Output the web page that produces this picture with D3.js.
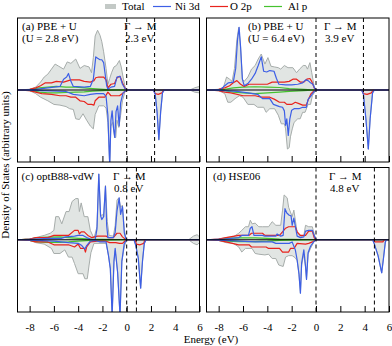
<!DOCTYPE html>
<html>
<head>
<meta charset="utf-8">
<script src="https://cdn.jsdelivr.net/npm/d3@7"></script>
<style>
  body { margin: 0; background: #fff; }
  svg { display: block; }
  svg text { font-family: "Liberation Serif", "Times New Roman", "DejaVu Serif", serif; }
</style>
</head>
<body>
<div id="chart"></div>
<script>
// Projected density of states, four functionals. Points are [energy (eV), DOS]
// spin up > 0, spin down < 0

const energyTicks = [-8, -6, -4, -2, 0, 2, 4, 6];

// (a) PBE + U, U = 2.8 eV
const aTotalUp = [[-9,0],[-8,0.1],[-7.5,0.4],[-7.1,1.1],[-6.8,1.8],[-6.5,2.2],[-6.2,2.9],[-5.9,3.6],[-5.6,3.3],[-5.2,2.9],[-4.9,3.9],[-4.6,3.7],[-4.2,4.3],[-3.85,3.0],[-3.5,3.4],[-3.1,3.2],[-2.9,2.4],[-2.75,4.5],[-2.6,7.5],[-2.4,8.3],[-2.2,7.6],[-2.05,6.7],[-1.9,5.3],[-1.7,3.0],[-1.55,0.8],[-1.4,1.6],[-1.25,2.4],[-1.05,3.2],[-0.85,3.4],[-0.6,4.1],[-0.45,3.2],[-0.3,1.8],[-0.1,0.2],[0,0],[5.2,0],[5.6,0.3],[6,0.5]];
const aTotalDown = [[-9,0],[-8,-0.1],[-7.5,-0.5],[-7.1,-1],[-6.5,-1.5],[-6.0,-2],[-5.5,-2.1],[-5.0,-2.3],[-4.7,-2.6],[-4.4,-2.7],[-4.2,-4],[-3.9,-4.1],[-3.6,-3.3],[-3.3,-4.2],[-3.0,-5],[-2.75,-5.4],[-2.6,-3.4],[-2.3,-2.2],[-1.9,-2.2],[-1.7,-2.5],[-1.55,-4.5],[-1.4,-10.5],[-1.3,-5],[-1.15,-4.5],[-1.0,-6.6],[-0.9,-6.6],[-0.8,-4.2],[-0.65,-5.2],[-0.5,-3.5],[-0.35,-1.5],[-0.15,-0.3],[0,0],[2.2,0],[2.35,-0.6],[2.5,-3],[2.65,-6.9],[2.8,-3],[2.95,-0.4],[3.1,0],[5.2,0],[5.6,-0.3],[6,-0.4]];
const aNiUp = [[-9,0],[-7.5,0.1],[-6.5,0.3],[-5.5,0.5],[-5.2,1.5],[-4.95,1.8],[-4.8,2.3],[-4.6,1.2],[-4.4,0.5],[-3.5,0.4],[-3.0,0.5],[-2.75,1.5],[-2.55,4.6],[-2.4,4.4],[-2.2,4.2],[-2.05,4.2],[-1.9,3.8],[-1.8,2.5],[-1.65,0.6],[-1.55,0.1],[-1.3,0.4],[-1.0,0.5],[-0.8,1.8],[-0.55,1.9],[-0.35,0.8],[-0.1,0.1],[0,0],[6,0]];
const aNiDown = [[-9,0],[-7,-0.1],[-5,-0.2],[-4.4,-0.6],[-3.5,-0.8],[-3.0,-0.6],[-2.5,-0.5],[-1.9,-0.5],[-1.7,-0.9],[-1.55,-3.5],[-1.4,-10.5],[-1.3,-4.2],[-1.2,-2.9],[-1.08,-5.4],[-0.98,-6.6],[-0.88,-3],[-0.75,-2.2],[-0.62,-5],[-0.5,-1.8],[-0.3,-0.4],[0,0],[2.2,0],[2.35,-0.6],[2.5,-3],[2.65,-6.9],[2.8,-3],[2.95,-0.4],[3.1,0],[6,0]];
const aOUp = [[-9,0],[-8,0.1],[-7.5,0.3],[-7.1,0.6],[-6.7,1],[-6.2,1],[-5.8,1.2],[-5.2,1.1],[-4.6,1.4],[-4.2,1.4],[-3.9,1.4],[-3.5,1.2],[-3.0,1.1],[-2.7,1.3],[-2.55,1.7],[-2.3,1.8],[-1.9,1.8],[-1.7,1.4],[-1.55,0.3],[-1.3,0.8],[-1.0,0.9],[-0.8,1.7],[-0.55,1.9],[-0.35,1.0],[-0.1,0.1],[0,0],[6,0]];
const aODown = [[-9,0],[-8,-0.1],[-7.5,-0.3],[-7,-0.5],[-6.2,-0.6],[-5.5,-0.8],[-5.0,-0.8],[-4.6,-1],[-4.2,-1],[-3.85,-1.5],[-3.5,-1.6],[-3.2,-2],[-2.9,-2],[-2.7,-2.1],[-2.6,-1.5],[-2.3,-1],[-1.8,-1],[-1.55,-0.3],[-1.3,-0.8],[-0.9,-0.8],[-0.6,-0.8],[-0.35,-0.5],[-0.1,-0.1],[0,0],[2.2,0],[2.35,-0.5],[2.6,-0.6],[2.9,-0.4],[3.05,0],[6,0]];
const aAlUp = [[-9,0],[-8,0.05],[-7.2,0.3],[-6.5,0.4],[-5.8,0.5],[-5,0.4],[-4.2,0.4],[-3.5,0.3],[-2.8,0.2],[-1.6,0.05],[0,0],[6,0]];
const aAlDown = [[-9,0],[-8,-0.05],[-7.2,-0.3],[-6.5,-0.4],[-5.8,-0.4],[-5,-0.35],[-4.2,-0.3],[-3.5,-0.25],[-2.8,-0.15],[-1.6,-0.05],[0,0],[6,0]];

// (b) PBE + U, U = 6.4 eV
const bTotalUp = [[-9,0],[-8,0.1],[-7.6,0.4],[-7.35,1.8],[-7.1,1.5],[-6.9,1.2],[-6.7,3],[-6.5,7],[-6.35,8.7],[-6.2,6],[-6.05,1.5],[-5.9,1.2],[-5.6,1.8],[-5.3,2.9],[-5.0,3.4],[-4.75,4.3],[-4.5,5],[-4.2,3.6],[-3.95,4.5],[-3.7,3.3],[-3.4,3.2],[-3.1,3.1],[-2.9,2.9],[-2.6,3.4],[-2.3,3.1],[-1.9,3.1],[-1.6,2.4],[-1.35,2.9],[-1.05,3.4],[-0.85,3.4],[-0.7,2.9],[-0.5,3.8],[-0.35,2.4],[-0.15,0.5],[0,0],[6,0]];
const bTotalDown = [[-9,0],[-8,-0.1],[-7.5,-0.5],[-7.25,-1.7],[-7.0,-1.7],[-6.65,-1.2],[-6.3,-0.8],[-6.0,-1.0],[-5.6,-2],[-5.1,-2],[-4.8,-2.4],[-4.3,-2.4],[-4.1,-3.1],[-3.8,-2.6],[-3.4,-2.6],[-3.1,-3.5],[-2.85,-4.7],[-2.6,-4.7],[-2.5,-5.4],[-2.35,-8.2],[-2.2,-8],[-2.1,-6.5],[-1.95,-5.4],[-1.8,-4.5],[-1.5,-4],[-1.3,-4],[-1.1,-3.1],[-0.9,-3.1],[-0.65,-2],[-0.45,-2],[-0.3,-0.8],[0,0],[3.75,0],[3.9,-0.6],[4.1,-4],[4.3,-8.2],[4.45,-4],[4.65,-0.4],[4.8,0],[6,0]];
const bNiUp = [[-9,0],[-7.8,0.1],[-7.5,0.6],[-7.2,1],[-6.8,1.1],[-6.6,3],[-6.45,7],[-6.32,8.7],[-6.2,6],[-6.05,1.5],[-5.9,0.6],[-5.6,0.9],[-5.3,1.5],[-5.0,2.3],[-4.75,3.4],[-4.5,4.6],[-4.3,2.6],[-4.05,2.5],[-3.8,2.7],[-3.45,2.6],[-3.25,1.6],[-3.05,0.8],[-2.5,0.7],[-2.0,0.7],[-1.5,0.8],[-1.1,1.0],[-0.85,1.4],[-0.65,1.3],[-0.45,1.0],[-0.25,0.8],[-0.1,0.2],[0,0],[6,0]];
const bNiDown = [[-9,0],[-7.5,-0.1],[-6.5,-0.2],[-5.6,-0.4],[-4.8,-0.6],[-4.4,-1.2],[-3.8,-1.2],[-3.5,-2],[-3.0,-2.3],[-2.75,-2.4],[-2.6,-2.9],[-2.5,-4.9],[-2.4,-4],[-2.28,-6.3],[-2.15,-4],[-2.0,-2.8],[-1.8,-2.6],[-1.4,-2.6],[-1.1,-2.4],[-0.8,-2.4],[-0.65,-1.3],[-0.4,-0.8],[-0.15,-0.2],[0,0],[3.75,0],[3.9,-0.6],[4.1,-4],[4.3,-8.2],[4.45,-4],[4.65,-0.4],[4.8,0],[6,0]];
const bOUp = [[-9,0],[-8,0.1],[-7.5,0.3],[-7.1,0.6],[-6.8,1.0],[-6.5,1.3],[-6.2,0.8],[-5.9,0.5],[-5.5,0.8],[-4.5,0.8],[-4.0,0.8],[-3.6,1.1],[-3.0,1.1],[-2.6,1.1],[-2.2,1.2],[-1.9,1.5],[-1.6,1.5],[-1.3,1.1],[-1.0,1.1],[-0.75,1.5],[-0.5,1.6],[-0.35,1.2],[-0.15,0.3],[0,0],[6,0]];
const bODown = [[-9,0],[-8,-0.1],[-7.5,-0.3],[-7,-0.4],[-6,-0.8],[-5,-0.8],[-4.5,-1],[-3.8,-1],[-3.4,-1.3],[-3.0,-1.7],[-2.6,-1.7],[-2.4,-2],[-2.0,-2],[-1.7,-1.7],[-1.4,-1.9],[-1.1,-2.1],[-0.8,-2.1],[-0.6,-1.2],[-0.4,-0.5],[-0.15,-0.1],[0,0],[3.75,0],[3.9,-0.5],[4.2,-0.6],[4.55,-0.4],[4.7,0],[6,0]];
const bAlUp = [[-9,0],[-7.5,0.1],[-6.8,0.3],[-6,0.4],[-5,0.45],[-4,0.4],[-3,0.35],[-2.2,0.2],[-1,0.1],[0,0],[6,0]];
const bAlDown = [[-9,0],[-7.5,-0.1],[-6.8,-0.3],[-6,-0.4],[-5,-0.5],[-4,-0.4],[-3,-0.3],[-2.2,-0.2],[-1,-0.1],[0,0],[6,0]];

// (c) optB88-vdW
const cTotalUp = [[-9,0],[-8,0.1],[-7.5,0.3],[-6.8,0.6],[-6.3,0.9],[-6.0,1.3],[-5.85,3.2],[-5.6,3.2],[-5.35,2.2],[-5.0,3.9],[-4.75,3.9],[-4.5,5.3],[-4.2,5.7],[-4.0,5.7],[-3.9,3.9],[-3.75,5.1],[-3.5,3.2],[-3.2,3.2],[-3.0,1.3],[-2.7,0.2],[-2.45,1.8],[-2.3,9.1],[-2.15,3.3],[-2.0,3.5],[-1.9,3.2],[-1.75,7.5],[-1.6,2.5],[-1.45,0.6],[-1.1,0.5],[-0.95,2],[-0.8,5.5],[-0.65,5.8],[-0.5,4.5],[-0.35,4.8],[-0.2,1.5],[-0.05,0.1],[0,0],[5.1,0],[5.5,0.5],[5.8,0.7],[6,0.4]];
const cTotalDown = [[-9,0],[-8,-0.1],[-7.5,-0.4],[-6.8,-0.6],[-6.2,-1.2],[-6.0,-1.9],[-5.5,-1.9],[-5.1,-1.4],[-4.8,-2.4],[-4.5,-2.4],[-4.3,-3.3],[-4.0,-4.7],[-3.6,-4.7],[-3.45,-5.4],[-3.25,-5.4],[-3.1,-3.5],[-2.95,-1.8],[-2.7,-0.5],[-1.7,-0.5],[-1.5,-2.2],[-1.35,-4],[-1.2,-10.5],[-1.05,-3],[-0.95,-1.5],[-0.75,-4.5],[-0.55,-10.5],[-0.4,-3],[-0.2,-1],[0,0],[0.6,0],[0.75,-0.8],[0.95,-2.5],[1.15,-6.7],[1.3,-3],[1.45,-0.5],[1.6,0],[5.1,0],[5.5,-0.5],[5.8,-0.7],[6,-0.4]];
const cNiUp = [[-9,0],[-7.5,0.1],[-6.5,0.2],[-5.4,0.2],[-5,0.4],[-4.3,0.5],[-4,0.6],[-3.6,0.6],[-3.3,0.3],[-3.0,0.1],[-2.6,0],[-2.45,1.5],[-2.3,9.1],[-2.15,3.3],[-2.05,2.8],[-1.9,3.2],[-1.75,7.4],[-1.65,2],[-1.55,0.3],[-1.1,0.3],[-0.95,1],[-0.8,4],[-0.62,5.8],[-0.5,3.5],[-0.35,4.6],[-0.2,1],[-0.05,0],[0,0],[6,0]];
const cNiDown = [[-9,0],[-7.5,-0.1],[-6,-0.2],[-4.8,-0.4],[-4.0,-0.5],[-3.7,-0.8],[-3.45,-1.3],[-3.3,-0.8],[-3.0,-0.2],[-2.6,-0.1],[-2.2,-0.3],[-1.7,-0.3],[-1.5,-2.2],[-1.35,-4],[-1.2,-10.5],[-1.05,-3],[-0.95,-1.2],[-0.75,-4.5],[-0.55,-10.5],[-0.4,-3],[-0.2,-0.5],[0,0],[0.6,0],[0.75,-0.8],[0.95,-2.5],[1.15,-6.7],[1.3,-3],[1.45,-0.5],[1.6,0],[6,0]];
const cOUp = [[-9,0],[-8,0.1],[-7.5,0.3],[-6.5,0.3],[-6,0.6],[-5.4,0.6],[-4.8,0.6],[-4.3,1.3],[-4.0,1.3],[-3.9,0.8],[-3.75,1.1],[-3.5,1.1],[-3.2,0.6],[-2.9,0.3],[-2.4,0.5],[-1.7,0.5],[-1.5,0.3],[-1.1,0.3],[-0.95,0.6],[-0.8,0.9],[-0.55,0.9],[-0.35,0.4],[-0.1,0.05],[0,0],[6,0]];
const cODown = [[-9,0],[-8,-0.1],[-7.5,-0.3],[-6.5,-0.3],[-6,-0.7],[-5.4,-0.7],[-4.8,-0.7],[-4.3,-1],[-4.0,-0.6],[-3.8,-1.2],[-3.5,-1.2],[-3.4,-1.7],[-3.3,-1],[-3.0,-0.3],[-2.4,-0.2],[-1.7,-0.2],[-1.4,-0.4],[-0.9,-0.4],[-0.6,-0.5],[-0.35,-0.5],[-0.1,-0.1],[0,0],[0.7,0],[0.8,-0.6],[1.1,-0.7],[1.4,-0.5],[1.5,0],[6,0]];
const cAlUp = [[-9,0],[-8,0.1],[-7.3,0.3],[-6.5,0.35],[-5.5,0.4],[-4.8,0.3],[-4,0.2],[-3,0.1],[-2,0.05],[0,0],[6,0]];
const cAlDown = [[-9,0],[-8,-0.1],[-7.3,-0.3],[-6.5,-0.35],[-5.5,-0.35],[-4.8,-0.3],[-4,-0.2],[-3,-0.1],[-2,-0.05],[0,0],[6,0]];

// (d) HSE06
const dTotalUp = [[-9,0],[-8,0.1],[-7.4,0.3],[-6.8,0.4],[-6.35,0.9],[-6.1,1.3],[-5.8,1.8],[-5.55,1.8],[-5.4,2.7],[-5.25,2.2],[-5.0,2.3],[-4.7,1.8],[-4.4,1.8],[-3.9,1.8],[-3.6,2.5],[-3.3,2],[-2.9,2],[-2.75,4.1],[-2.62,6.2],[-2.37,5.8],[-2.25,4.5],[-1.96,3.2],[-1.82,4.1],[-1.55,1],[-1.28,0.4],[-1.0,0.6],[-0.86,2],[-0.6,1.8],[-0.3,1.8],[-0.15,0.8],[0,0],[6,0]];
const dTotalDown = [[-9,0],[-8,-0.1],[-7.4,-0.4],[-6.8,-0.5],[-6.35,-1],[-6.1,-1.7],[-5.8,-1.2],[-5.26,-1.2],[-5.0,-1.9],[-4.7,-2],[-4.2,-2.1],[-3.9,-2],[-3.6,-2.6],[-3.3,-2.6],[-3.06,-3.5],[-2.7,-3.7],[-2.5,-2.4],[-2.25,-2.2],[-1.96,-2.2],[-1.7,-2.5],[-1.55,-2.9],[-1.4,-4.8],[-1.28,-7.4],[-1.18,-3.5],[-1.0,-2],[-0.86,-3.8],[-0.78,-5.5],[-0.65,-2],[-0.45,-1.2],[-0.2,-0.4],[0,0],[4.65,0],[4.8,-0.6],[5.1,-2.2],[5.4,-4.6],[5.55,-2.5],[5.7,-0.3],[5.8,0],[6,0]];
const dNiUp = [[-9,0],[-7.5,0.1],[-6.35,0.3],[-6.1,0.6],[-5.55,0.6],[-5.4,1.6],[-5.26,1.8],[-5.1,0.6],[-4.4,0.6],[-4.2,0.5],[-3.3,0.5],[-3.2,0.8],[-2.9,0.5],[-2.7,0.6],[-2.55,4.3],[-2.4,3.7],[-2.2,3.4],[-2.05,3.3],[-1.96,2],[-1.82,3],[-1.55,0.5],[-1.28,0.3],[-1.0,0.4],[-0.86,1.2],[-0.6,1.3],[-0.3,1.3],[-0.15,0.6],[0,0],[6,0]];
const dNiDown = [[-9,0],[-7.5,-0.1],[-5,-0.3],[-3.6,-0.3],[-3.3,-0.5],[-2.2,-0.5],[-1.96,-0.3],[-1.7,-1.4],[-1.55,-2.8],[-1.4,-4.7],[-1.28,-7.4],[-1.18,-3.2],[-1.0,-1.4],[-0.86,-3.7],[-0.78,-5.5],[-0.65,-1.8],[-0.45,-0.9],[-0.2,-0.3],[0,0],[4.65,0],[4.8,-0.6],[5.1,-2.2],[5.4,-4.6],[5.55,-2.5],[5.7,-0.3],[5.8,0],[6,0]];
const dOUp = [[-9,0],[-8,0.1],[-7.4,0.3],[-6.35,0.6],[-5.5,0.6],[-5.3,0.9],[-4.4,0.9],[-4.2,0.6],[-3.0,0.6],[-2.75,1.1],[-2.5,1.6],[-2.25,1.8],[-1.7,1.8],[-1.55,1.1],[-1.28,0.6],[-0.86,0.6],[-0.6,1.2],[-0.3,1.2],[-0.15,0.3],[0,0],[6,0]];
const dODown = [[-9,0],[-8,-0.1],[-7.4,-0.3],[-6.35,-0.7],[-5.5,-0.7],[-5.3,-1],[-4.1,-1],[-3.9,-1.2],[-3.0,-1.2],[-2.75,-1.7],[-2.25,-1.7],[-2.1,-1.2],[-1.8,-1.2],[-1.55,-0.5],[-0.86,-0.6],[-0.6,-0.5],[-0.3,-0.3],[0,0],[4.7,0],[4.85,-0.3],[5.5,-0.3],[5.6,0],[6,0]];
const dAlUp = [[-9,0],[-8,0.05],[-7.3,0.2],[-6.3,0.25],[-5,0.25],[-4,0.2],[-3,0.1],[-2,0.05],[0,0],[6,0]];
const dAlDown = [[-9,0],[-8,-0.05],[-7.3,-0.2],[-6.3,-0.25],[-5,-0.25],[-4,-0.2],[-3,-0.1],[-2,-0.05],[0,0],[6,0]];

const panelLabels = [['(a) PBE + U', '(U = 2.8 eV)'], ['(b) PBE + U', '(U = 6.4 eV)'], ['(c) optB88-vdW'], ['(d) HSE06']];
const gaps = [2.3, 3.9, 0.8, 4.8];
const legendLabels = ['Total', 'Ni 3d', 'O 2p', 'Al p'];

const width = 392;
const height = 346;
const serif = '"Liberation Serif", "Times New Roman", "DejaVu Serif", serif';

const colors = { total: '#e1e5e3', totalLine: '#a6acaa', ni: '#3d5fe6', o: '#e8231d', al: '#45c22f' };

// panel boxes (layout only)
const boxes = [
  { x0: 17.5, x1: 199.5, y0: 18, y1: 162 },
  { x0: 206.5, x1: 389, y0: 18, y1: 162 },
  { x0: 17.5, x1: 199.5, y0: 167.5, y1: 312 },
  { x0: 206.5, x1: 389, y0: 167.5, y1: 312 },
];
const labelX = [22, 248, 21.5, 213];
const gammaX = [124, 324, 113, 329];

const panels = [
  { total: [aTotalUp, aTotalDown], ni: [aNiUp, aNiDown], o: [aOUp, aODown], al: [aAlUp, aAlDown] },
  { total: [bTotalUp, bTotalDown], ni: [bNiUp, bNiDown], o: [bOUp, bODown], al: [bAlUp, bAlDown] },
  { total: [cTotalUp, cTotalDown], ni: [cNiUp, cNiDown], o: [cOUp, cODown], al: [cAlUp, cAlDown] },
  { total: [dTotalUp, dTotalDown], ni: [dNiUp, dNiDown], o: [dOUp, dODown], al: [dAlUp, dAlDown] },
];

const svg = d3.select('#chart').append('svg')
  .attr('width', width)
  .attr('height', height)
  .attr('font-family', serif);

panels.forEach((p, i) => {
  const b = boxes[i];
  const x = d3.scaleLinear().domain([-9, 6]).range([b.x0, b.x1]);
  const y = d3.scaleLinear().domain([-10, 10]).range([b.y1, b.y0]);

  const g = svg.append('g');

  g.append('clipPath').attr('id', 'clip' + i)
    .append('rect')
    .attr('x', b.x0).attr('y', b.y0)
    .attr('width', b.x1 - b.x0).attr('height', b.y1 - b.y0);

  const plot = g.append('g').attr('clip-path', `url(#clip${i})`);

  const area = d3.area().x((d) => x(d[0])).y0(y(0)).y1((d) => y(d[1]));
  const line = d3.line().x((d) => x(d[0])).y((d) => y(d[1]));

  p.total.forEach((s) => {
    plot.append('path').attr('d', area(s)).attr('fill', colors.total);
  });
  p.total.forEach((s) => {
    plot.append('path').attr('d', line(s)).attr('fill', 'none')
      .attr('stroke', colors.totalLine).attr('stroke-width', 1);
  });

  [['al', colors.al], ['o', colors.o], ['ni', colors.ni]].forEach(([k, c]) => {
    p[k].forEach((s) => {
      plot.append('path').attr('d', line(s)).attr('fill', 'none')
        .attr('stroke', c).attr('stroke-width', 1.2)
        .attr('stroke-linejoin', 'round');
    });
  });

  // zero line
  g.append('line')
    .attr('x1', b.x0).attr('x2', b.x1)
    .attr('y1', y(0)).attr('y2', y(0))
    .attr('stroke', '#000').attr('stroke-width', 1.2);

  // VBM and CBM markers
  [0, gaps[i]].forEach((e) => {
    g.append('line')
      .attr('x1', x(e)).attr('x2', x(e))
      .attr('y1', b.y0).attr('y2', b.y1)
      .attr('stroke', '#000').attr('stroke-width', 1)
      .attr('stroke-dasharray', '4,3');
  });

  // inward ticks on the bottom
  const axis = g.append('g')
    .attr('transform', `translate(0,${b.y1})`)
    .call(d3.axisBottom(x).tickValues(energyTicks).tickSizeInner(-6).tickSizeOuter(0)
      .tickFormat(i >= 2 ? (d) => String(d) : () => ''));
  axis.select('.domain').remove();
  axis.attr('font-family', serif).attr('font-size', 11);
  axis.selectAll('line').attr('stroke', '#000');
  axis.selectAll('text').attr('y', 11).attr('fill', '#000');

  g.append('rect')
    .attr('x', b.x0).attr('y', b.y0)
    .attr('width', b.x1 - b.x0).attr('height', b.y1 - b.y0)
    .attr('fill', 'none').attr('stroke', '#000').attr('stroke-width', 1);

  // texts
  panelLabels[i].forEach((t, j) => {
    g.append('text').attr('x', labelX[i]).attr('y', b.y0 + 12 + j * 12)
      .attr('font-size', 11).text(t);
  });
  g.append('text').attr('x', gammaX[i]).attr('y', b.y0 + 12).attr('font-size', 11).text('Γ → M');
  g.append('text').attr('x', gammaX[i] + 1).attr('y', b.y0 + 24).attr('font-size', 11)
    .text(`${gaps[i]} eV`);
});

// axis titles
svg.append('text')
  .attr('x', 211).attr('y', 343)
  .attr('text-anchor', 'middle').attr('font-size', 11)
  .text('Energy (eV)');

svg.append('text')
  .attr('transform', 'translate(9,165) rotate(-90)')
  .attr('text-anchor', 'middle').attr('font-size', 11)
  .text('Density of States (arbitrary units)');

// legend
const legend = svg.append('g');
legend.append('rect').attr('x', 105).attr('y', 4).attr('width', 11).attr('height', 5)
  .attr('fill', '#c3c9c6');
legend.append('text').attr('x', 122).attr('y', 10).attr('font-size', 11).text(legendLabels[0]);
[[153, colors.ni, 175], [210, colors.o, 230], [264, colors.al, 288]].forEach(([lx, c, tx], k) => {
  legend.append('line').attr('x1', lx).attr('x2', lx + 18).attr('y1', 6.5).attr('y2', 6.5)
    .attr('stroke', c).attr('stroke-width', 1.2);
  legend.append('text').attr('x', tx).attr('y', 10).attr('font-size', 11).text(legendLabels[k + 1]);
});
</script>
</body>
</html>
